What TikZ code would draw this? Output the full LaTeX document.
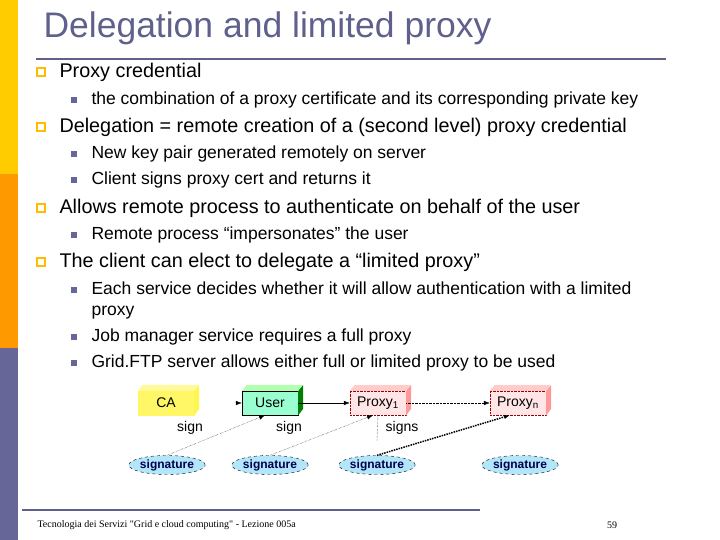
\documentclass[tikz,border=0pt]{standalone}
\usepackage{fontspec}
\setmainfont{Liberation Sans}
\newfontfamily\serf{Liberation Serif}
\usetikzlibrary{shapes.geometric,arrows.meta}
\definecolor{tcol}{RGB}{96,96,140}
\definecolor{byel}{RGB}{255,204,0}
\definecolor{bora}{RGB}{255,153,0}
\definecolor{bpur}{RGB}{102,102,153}
\tikzset{
 lone/.style={anchor=west,font=\fontsize{19.8}{21}\selectfont},
 ltwo/.style={anchor=west,font=\fontsize{17.5}{21}\selectfont},
 bone/.style={draw=byel!80!orange,line width=1.3pt,minimum size=8pt,inner sep=0pt},
 btwo/.style={fill=bpur,minimum size=6pt,inner sep=0pt},
 cbox/.style={draw,minimum width=56pt,minimum height=24pt,inner sep=0pt,font=\fontsize{14}{15}\selectfont},
 sig/.style={ellipse,draw=black,dashed,fill=cyan!30,minimum width=62pt,minimum height=19pt,inner sep=0pt,font=\fontsize{12}{13}\selectfont\bfseries,text=blue!30!black},
 lab/.style={font=\fontsize{14}{15}\selectfont},
 dot/.style={densely dotted,-{Latex[length=6pt]}}
}
\begin{document}
\begin{tikzpicture}[x=1pt,y=-1pt]
\useasboundingbox (0,0) rectangle (720,540);
\fill[byel] (0,0) rectangle (18,174);
\fill[bora] (0,174) rectangle (18,348);
\fill[bpur] (0,348) rectangle (18,540);
\node[anchor=west,text=tcol,font=\fontsize{35.5}{38}\selectfont] (title) at (40,28) {Delegation and limited proxy};
\draw[tcol,line width=1.5pt] (36,59) -- (666,59);
\foreach \y in {72,127,208,262} \node[bone] at (41,\y) {};
\foreach \y in {100,154,180,235,290,337,363} \node[btwo] at (74,\y) {};
\node[lone] (a1) at (56,72) {Proxy credential};
\node[ltwo] (a2) at (88,100) {the combination of a proxy certificate and its corresponding private key};
\node[lone] (a3) at (56,127) {Delegation = remote creation of a (second level) proxy credential};
\node[ltwo] (a4) at (88,154) {New key pair generated remotely on server};
\node[ltwo] (a5) at (88,180) {Client signs proxy cert and returns it};
\node[lone] (a6) at (56,208) {Allows remote process to authenticate on behalf of the user};
\node[ltwo] (a7) at (88,235) {Remote process “impersonates” the user};
\node[lone] (a8) at (56,262) {The client can elect to delegate a “limited proxy”};
\node[ltwo,align=left] (a9) at (88,300.5) {Each service decides whether it will allow authentication with a limited\\proxy};
\node[ltwo] (a10) at (88,337) {Job manager service requires a full proxy};
\node[ltwo] (a11) at (88,363) {Grid.FTP server allows either full or limited proxy to be used};
% boxes
\node[cbox,fill=yellow!60,draw=yellow!60] (ca) at (166,403) {CA};
\node[cbox,fill=green!45!cyan!40] (user) at (270,403) {User};
\node[cbox,fill=red!10,draw=red!60!black,densely dotted] (p1) at (378,403) {Proxy\textsubscript{1}};
\node[cbox,fill=red!10,draw=red!60!black,densely dotted] (pn) at (518,403) {Proxy\textsubscript{n}};
\foreach \b/\c/\t in {ca/yellow!70/yellow!40,user/green!50!black/green!30,p1/red!40/red!20,pn/red!40/red!20}{
 \fill[\c] (\b.north east) -- ++(5,-6) -- ++(0,24) -- (\b.south east) -- cycle;
 \fill[\t] (\b.north west) -- ++(5,-6) -- ++(56,0) -- (\b.north east) -- cycle;
}
\node[sig] (s1) at (167,465) {signature};
\node[sig] (s2) at (270,465) {signature};
\node[sig] (s3) at (377,465) {signature};
\node[sig] (s4) at (520,465) {signature};
\coordinate (caout) at (236,403);
\draw[-{Latex[length=6pt]}] (caout) -- (user.west);
\draw[-{Latex[length=6pt]}] (user.east) -- (p1.west);
\draw[dot] (p1.east) -- (pn.west);
\draw[dot] (s1.north) -- ([xshift=-5pt]user.south);
\draw[dot] (s2.north) -- ([xshift=-5pt]p1.south);
\draw[dot,line width=1.5pt] (s3.north) -- ([xshift=-8pt]pn.south);
\coordinate (sgn) at (377,441);
\draw[densely dotted] (p1.south) -- (sgn);
\node[lab] (l1) at (190,428) {sign};
\node[lab] (l2) at (289,428) {sign};
\node[lab] (l3) at (402,428) {signs};
\draw[tcol,line width=1.5pt] (22,510) -- (480,510);
\node[anchor=west,font=\serf\fontsize{10}{11}\selectfont] (foot) at (34,525) {Tecnologia dei Servizi "Grid e cloud computing" - Lezione 005a};
\node[font=\serf\fontsize{10}{11}\selectfont] (pg) at (612,525) {59};
\end{tikzpicture}
\end{document}
